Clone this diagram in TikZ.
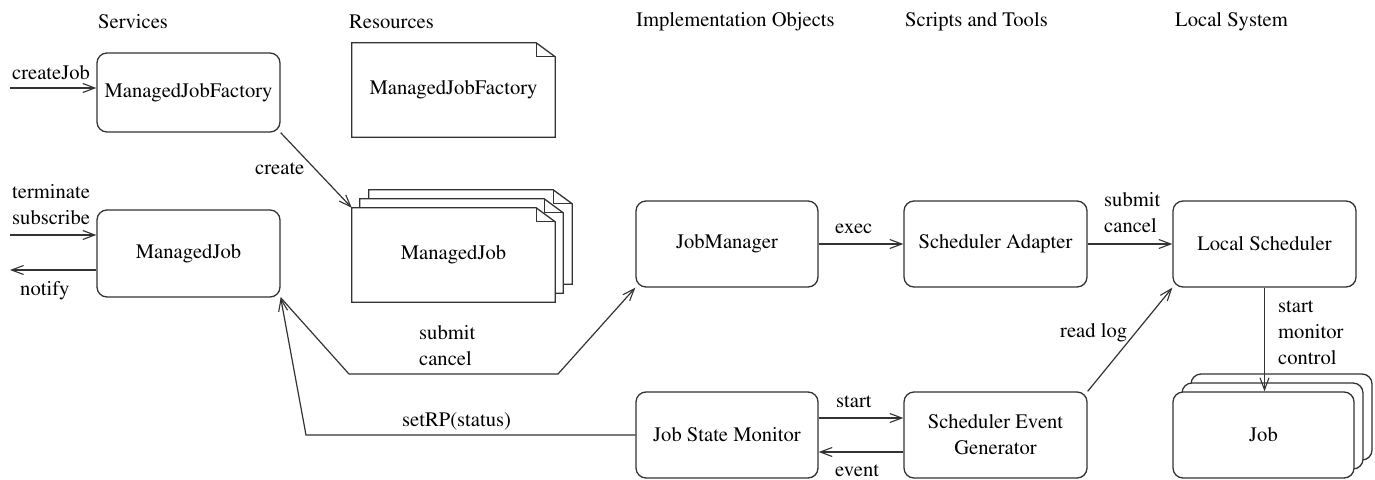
\documentclass[tikz,border=0pt]{standalone}
\usepackage[T1]{fontenc}
\usepackage{times}
\usetikzlibrary{arrows.meta,backgrounds}
\newcommand\dfont{\rmfamily\fontsize{20.6}{26}\selectfont}
\tikzset{
  x=1pt,y=-1pt,
  every node/.style={font=\dfont},
  lbl/.style={inner sep=0pt,anchor=west,align=left},
  hdr/.style={inner sep=0pt,anchor=west},
  rbox/.style={draw=black!80,line width=1.3pt,rounded corners=10pt,fill=white,
     minimum width=183pt,minimum height=86pt,inner sep=0pt,align=center},
  paperbox/.style={minimum width=203pt,minimum height=94pt,inner sep=0pt},
  conn/.style={draw=black!80,line width=1.2pt},
  arr/.style={conn,-{Straight Barb[length=12pt,width=9pt,line width=1.1pt]}},
}
\newcommand\papersheet[1]{%
  \draw[draw=black!80,line width=1.3pt,fill=white,line join=miter]
    (#1.south west) -- (#1.north west) -- ([xshift=-19pt]#1.north east)
    -- ([yshift=-14pt]#1.north east) -- (#1.south east) -- cycle;
  \draw[draw=black!80,line width=1.1pt]
    ([xshift=-19pt]#1.north east) |- ([yshift=-14pt]#1.north east);}
\begin{document}
\begin{tikzpicture}
\useasboundingbox (0,0) rectangle (1375,479);
% headers
\node[hdr] (hServ) at (98,22) {Services};
\node[hdr] (hRes) at (349,22) {Resources};
\node[hdr] (hImpl) at (636,22) {Implementation Objects};
\node[hdr] (hScr) at (905,22) {Scripts and Tools};
\node[hdr] (hLoc) at (1175,22) {Local System};
% service boxes
\node[rbox,minimum height=79pt] (mjf) at (188.5,92.5) {ManagedJobFactory};
\node[rbox,minimum height=87pt] (mj) at (188.5,253.5) {ManagedJob};
% resources
\node[paperbox] (res) at (453.5,90) {ManagedJobFactory};
\node[paperbox] (mjs3) at (470.5,237) {};
\node[paperbox] (mjs2) at (461.5,246) {};
\node[paperbox] (mjs) at (453.5,255) {ManagedJob};
\begin{pgfonlayer}{background}
  \papersheet{res}
  \papersheet{mjs3}
  \papersheet{mjs2}
  \papersheet{mjs}
\end{pgfonlayer}
% implementation objects
\node[rbox,minimum width=182pt] (jm) at (727,244) {JobManager};
\node[rbox,minimum width=182pt] (jsm) at (727,435) {Job State Monitor};
% scripts and tools
\node[rbox] (sa) at (995.5,244) {Scheduler Adapter};
\node[rbox] (seg) at (995.5,435) {Scheduler Event\\Generator};
% local system
\node[rbox] (ls) at (1264.5,244) {Local Scheduler};
\node[rbox,minimum width=181pt] (job3) at (1281.5,417) {};
\node[rbox,minimum width=181pt] (job2) at (1272.5,426) {};
\node[rbox,minimum width=181pt] (job) at (1263.5,435) {Job};
% free ends
\coordinate (cjIn) at (10,88);
\coordinate (tsIn) at (10,235);
\coordinate (ntOut) at (10,270);
\coordinate (sc1) at (349,374);
\coordinate (sc2) at (558,374);
\coordinate (sr1) at (306,435);
% connectors
\draw[arr] (cjIn) -- (cjIn -| mjf.west);
\node[lbl] (lCj) at (12,73) {createJob};
\draw[arr] (tsIn) -- (tsIn -| mj.west);
\node[lbl] (lTs) at (12,205) {terminate\\subscribe};
\draw[arr] (ntOut -| mj.west) -- (ntOut);
\node[lbl] (lNt) at (20,291) {notify};
\draw[arr] (mjf.south east) -- (mjs.north west);
\node[lbl] (lCr) at (255,169) {create};
\draw[arr] (mj.south east) -- (sc1) -- (sc2) -- (jm.south west);
\node[lbl] (lSc) at (419,346) {submit\\cancel};
\draw[arr] (jsm.west) -- (sr1) -- (mj.south east);
\node[lbl] (lSr) at (402,421) {setRP(status)};
\draw[arr] (jm.east) -- (sa.west);
\node[lbl] (lEx) at (835,229) {exec};
\draw[arr] (sa.east) -- (ls.west);
\node[lbl] (lSc2) at (1104,213) {submit\\cancel};
\draw[arr] ([yshift=17pt]jsm.east) -- ([yshift=17pt]jsm.east -| seg.west);
\node[lbl] (lSt) at (836,402) {start};
\draw[arr] ([yshift=-17pt]seg.west) -- ([yshift=-17pt]seg.west -| jsm.east);
\node[lbl] (lEv) at (835,471) {event};
\draw[arr] (seg.north east) -- (ls.south west);
\node[lbl] (lRl) at (1060,333) {read log};
\draw[arr] (ls.south) -- (ls.south |- job.north);
\node[lbl] (lSmc) at (1278,333) {start\\monitor\\control};
\end{tikzpicture}
\end{document}
